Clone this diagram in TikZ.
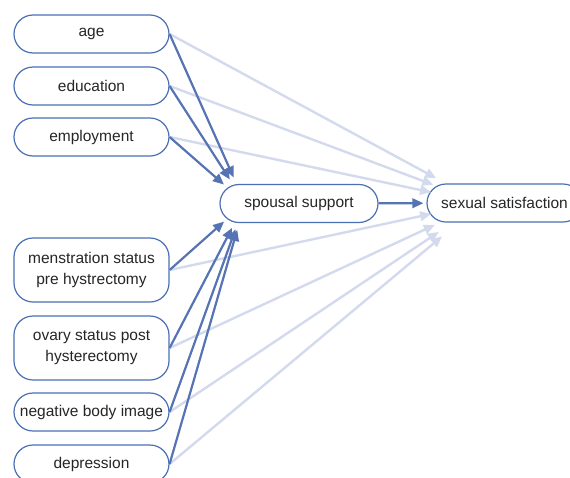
\documentclass[tikz,border=0pt]{standalone}
\usepackage{fontspec}
\setmainfont{Liberation Sans}
\usepackage{tikz}
\usepackage{xcolor}
\usetikzlibrary{arrows.meta}
\definecolor{FontColor}{HTML}{262626}
\definecolor{BorderNC}{HTML}{4A6FB3}
\definecolor{DarkNC}{HTML}{5673B3}
\definecolor{LightNC}{HTML}{D3DAEE}
\newcommand\nodeage{age}
\newcommand\nodeedu{education}
\newcommand\nodeemp{employment}
\newcommand\nodemen{menstration status\\pre hystrectomy}
\newcommand\nodeova{ovary status post\\hysterectomy}
\newcommand\nodeneg{negative body image}
\newcommand\nodedep{depression}
\newcommand\nodesup{spousal support}
\newcommand\nodesat{sexual satisfaction}
\tikzstyle{mynodestyle} = [rectangle, rounded corners=19pt, minimum width=155pt, minimum height=38pt, inner sep=0pt, align=center, text=FontColor, font=\fontsize{15.5}{21}\selectfont]
\tikzstyle{bn} = [mynodestyle, draw=BorderNC, fill=white, line width=1.2pt]
\tikzstyle{tn} = [bn, minimum height=64pt]
\tikzstyle{dk} = [->, draw=DarkNC, line width=2.2pt]
\tikzstyle{lt} = [->, draw=LightNC, line width=2.4pt]
\tikzset{>={Triangle[length=11pt,width=9.5pt]}}

\begin{document}
\begin{tikzpicture}[x=10pt, y=-10pt]
\useasboundingbox (0, 0) rectangle (57, 47.7);
\node[bn] (age) at (9.15, 3.4) {\nodeage};
\node[bn] (edu) at (9.15, 8.6) {\nodeedu};
\node[bn] (emp) at (9.15, 13.7) {\nodeemp};
\node[tn] (men) at (9.15, 27.0) {\nodemen};
\node[tn] (ova) at (9.15, 34.8) {\nodeova};
\node[bn] (neg) at (9.15, 41.2) {\nodeneg};
\node[bn] (dep) at (9.15, 46.4) {\nodedep};
\node[bn, minimum width=158pt] (sup) at (29.9, 20.35) {\nodesup};
\node[bn] (sat) at (50.45, 20.3) {\nodesat};
\coordinate (supin) at (24.5, 20.3);
\coordinate (satin) at (48.2, 20.3);
\draw [lt, shorten >=52pt] (age.east) -- (satin);
\draw [lt, shorten >=52pt] (edu.east) -- (satin);
\draw [lt, shorten >=52pt] (emp.east) -- (satin);
\draw [lt, shorten >=52pt] (men.east) -- (satin);
\draw [lt, shorten >=52pt] (ova.east) -- (satin);
\draw [lt, shorten >=52pt] (neg.east) -- (satin);
\draw [lt, shorten >=52pt] (dep.east) -- (satin);
\draw [dk, shorten >=28pt] (age.east) -- (supin);
\draw [dk, shorten >=28pt] (edu.east) -- (supin);
\draw [dk, shorten >=28pt] (emp.east) -- (supin);
\draw [dk, shorten >=28pt] (men.east) -- (supin);
\draw [dk, shorten >=28pt] (ova.east) -- (supin);
\draw [dk, shorten >=28pt] (neg.east) -- (supin);
\draw [dk, shorten >=28pt] (dep.east) -- (supin);
\draw [dk, shorten >=3pt] (sup) -- (sat);
\end{tikzpicture}
\end{document}
